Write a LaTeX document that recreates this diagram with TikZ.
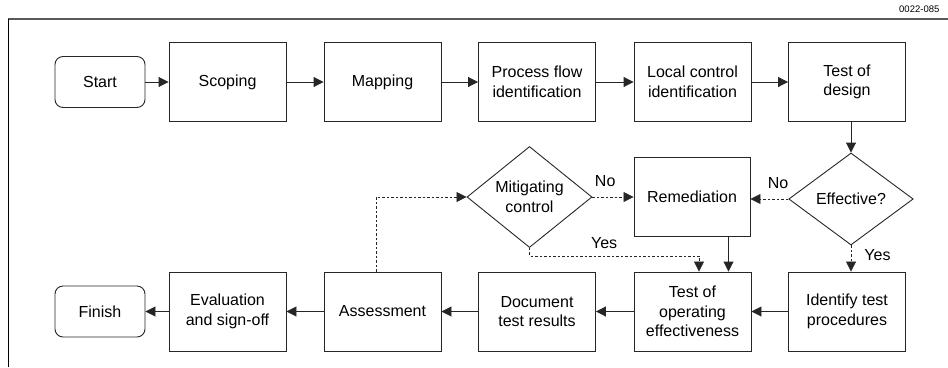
\documentclass[tikz,border=0pt]{standalone}
\usepackage{fontspec}
\setmainfont{Liberation Sans}
\usetikzlibrary{shapes.geometric, arrows.meta}

\begin{document}
\begin{tikzpicture}[
        x=1pt, y=-1pt,
        task/.style={draw=black!85, rectangle, line width=0.9pt, minimum width=117pt, minimum height=79pt, align=center, inner sep=2pt, font=\fontsize{16}{19.5}\selectfont},
        term/.style={task, rounded corners=8pt, minimum width=90pt, minimum height=51pt},
        decision/.style={draw=black!85, diamond, aspect=1.1, line width=0.9pt, inner sep=0pt, align=center, font=\fontsize{16}{19.5}\selectfont},
        arrow/.style={-{Triangle[length=10pt, width=10pt]}, line width=0.9pt, draw=black!85},
        dasharrow/.style={arrow, line width=0.8pt, dash pattern=on 2.5pt off 2pt},
        lbl/.style={font=\fontsize{16}{19.5}\selectfont, inner sep=0pt}
    ]
        \useasboundingbox (0,0) rectangle (948,367);

        % --- Frame ---
        \draw[line width=1.6pt, gray!70!black] (8,19) -- (948,19);
        \draw[line width=0.9pt] (8,19) -- (8,367);
        \node[anchor=west, inner sep=0pt, font=\fontsize{9.5}{10}\selectfont] (code) at (899,9) {0022-085};

        % --- Top row ---
        \node[term] (start)  at (100, 82)   {Start};
        \node[task] (scop)   at (227.5, 82) {Scoping};
        \node[task] (map)    at (382.5, 82) {Mapping};
        \node[task] (flow)   at (537, 82)   {Process flow\\identification};
        \node[task] (local)  at (692.5, 82) {Local control\\identification};
        \node[task] (design) at (847, 82)   {Test of\\design};
        \draw[arrow] (start) -- (scop);
        \draw[arrow] (scop) -- (map);
        \draw[arrow] (map) -- (flow);
        \draw[arrow] (flow) -- (local);
        \draw[arrow] (local) -- (design);

        % --- Decisions ---
        \node[decision, minimum width=125pt, minimum height=101pt] (mitig) at (529.5, 197) {Mitigating\\control};
        \node[task, minimum width=116pt] (remed) at (692, 197) {Remediation};
        \node[decision, minimum width=124.5pt, minimum height=92pt] (eff) at (851, 199) {Effective?};
        \draw[arrow] (eff.north |- design.south) -- (eff.north);
        \draw[dasharrow] (eff.west) -- (eff.west -| remed.east)
            node[pos=0.27, above=10pt, lbl]{No};
        \draw[dasharrow] (mitig.east) -- (mitig.east -| remed.west)
            node[pos=0.31, above=10pt, lbl]{No};

        % --- Bottom row ---
        \node[term] (finish) at (100, 311.5)   {Finish};
        \node[task] (eval)   at (227.5, 311.5) {Evaluation\\and sign-off};
        \node[task] (assess) at (382.5, 311.5) {Assessment};
        \node[task] (doc)    at (537, 311.5)   {Document\\test results};
        \node[task] (testop) at (692.5, 311.5) {Test of\\operating\\effectiveness};
        \node[task] (ident)  at (847, 311.5)   {Identify test\\procedures};
        \draw[arrow] (ident) -- (testop);
        \draw[arrow] (testop) -- (doc);
        \draw[arrow] (doc) -- (assess);
        \draw[arrow] (assess) -- (eval);
        \draw[arrow] (eval) -- (finish);

        % --- Feedback paths ---
        \draw[dasharrow] (eff.south) -- (eff.south |- ident.north)
            node[pos=0.35, right=13pt, lbl]{Yes};
        \draw[dasharrow] (mitig.south) -- ++(0,8) -| ([xshift=6.5pt]testop.north)
            node[pos=0.22, above=7pt, lbl]{Yes};
        \draw[arrow] ([xshift=36.5pt]remed.south) -- ([xshift=36.5pt]remed.south |- testop.north);
        \draw[dasharrow] ([xshift=-6.5pt]assess.north) |- (mitig.west);

    \end{tikzpicture}
\end{document}
